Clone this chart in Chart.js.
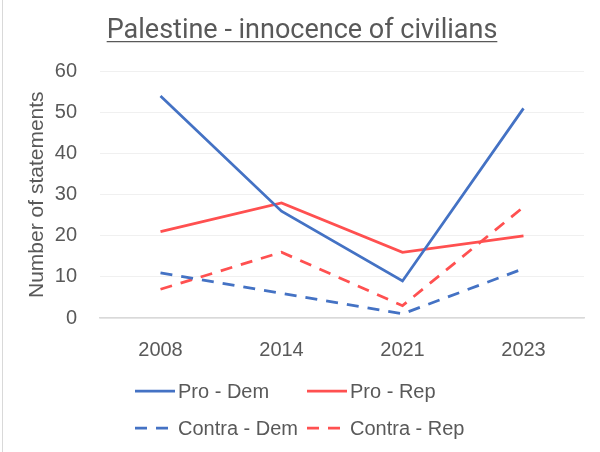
<!DOCTYPE html>
<html>
<head>
<meta charset="utf-8">
<script src="https://cdn.jsdelivr.net/npm/chart.js@4"></script>
<style>
  html, body { margin: 0; padding: 0; background: #fff; }
  #wrap { width: 600px; height: 452px; position: relative; }
</style>
</head>
<body>
<div id="wrap"><canvas id="civiliansChart" width="600" height="452"></canvas></div>
<script>
const years = ['2008', '2014', '2021', '2023'];
const proDem = [54, 26, 9, 51];
const proRep = [21, 28, 16, 20];
const contraDem = [11, 6, 1, 12];
const contraRep = [7, 16, 3, 27];

const blue = '#4472C4';
const red = '#FF5050';
const grey = '#595959';
const fontFamily = '"Liberation Sans", Arial, sans-serif';
const titleFont = { family: 'Roboto, sans-serif', size: 27, weight: 'normal', lineHeight: 1.2 };
const titlePad = { top: 15, bottom: 24 };

// frame line, title underline and a 2x2 legend below the axis
const extras = {
  id: 'extras',
  beforeDraw(chart) {
    const ctx = chart.ctx;
    ctx.save();
    ctx.strokeStyle = '#D9D9D9';
    ctx.lineWidth = 1;
    ctx.beginPath();
    ctx.moveTo(2.5, 0);
    ctx.lineTo(2.5, chart.height);
    ctx.stroke();
    ctx.restore();
  },
  afterDraw(chart) {
    const ctx = chart.ctx;
    const tb = chart.titleBlock;
    const title = chart.options.plugins.title;
    ctx.save();
    ctx.font = titleFont.size + 'px ' + titleFont.family;
    const w = ctx.measureText(title.text).width;
    const cx = tb.left + tb.width / 2;
    const uy = tb.top + titlePad.top + titleFont.size * titleFont.lineHeight / 2 + 10.5;
    ctx.strokeStyle = grey;
    ctx.lineWidth = 1.3;
    ctx.beginPath();
    ctx.moveTo(cx - w / 2, uy);
    ctx.lineTo(cx + w / 2, uy);
    ctx.stroke();

    const cols = [135, 307];
    const rows = [391, 428];
    ctx.font = '20px ' + fontFamily;
    ctx.textBaseline = 'middle';
    ctx.fillStyle = grey;
    chart.data.datasets.forEach(function (ds, i) {
      const x = cols[i % 2];
      const y = rows[Math.floor(i / 2)];
      ctx.strokeStyle = ds.borderColor;
      ctx.lineWidth = ds.borderWidth;
      ctx.setLineDash(ds.borderDash || []);
      ctx.beginPath();
      ctx.moveTo(x, y);
      ctx.lineTo(x + 40, y);
      ctx.stroke();
      ctx.setLineDash([]);
      ctx.fillText(ds.label, x + 43, y + 1);
    });
    ctx.restore();
  }
};

const ctx = document.getElementById('civiliansChart').getContext('2d');

new Chart(ctx, {
  type: 'line',
  data: {
    labels: years,
    datasets: [
      { label: 'Pro - Dem', data: proDem, borderColor: blue, borderWidth: 2.75 },
      { label: 'Pro - Rep', data: proRep, borderColor: red, borderWidth: 2.75 },
      { label: 'Contra - Dem', data: contraDem, borderColor: blue, borderWidth: 2.75, borderDash: [12, 9] },
      { label: 'Contra - Rep', data: contraRep, borderColor: red, borderWidth: 2.75, borderDash: [12, 9] }
    ]
  },
  options: {
    responsive: false,
    animation: false,
    layout: { padding: { left: 20, right: 16, top: 0, bottom: 0 } },
    elements: { point: { radius: 0 }, line: { tension: 0, borderCapStyle: 'butt' } },
    plugins: {
      legend: { display: false },
      tooltip: { enabled: false },
      title: {
        display: true,
        text: 'Palestine - innocence of civilians',
        color: grey,
        font: titleFont,
        padding: titlePad
      }
    },
    scales: {
      x: {
        offset: true,
        grid: { display: false, drawTicks: false },
        border: { color: '#D9D9D9', width: 1.5 },
        ticks: { color: grey, font: { family: fontFamily, size: 20 }, padding: 20 },
        afterFit(scale) { scale.height = 134; }
      },
      y: {
        min: 0,
        max: 60,
        ticks: {
          stepSize: 5,
          color: grey,
          font: { family: fontFamily, size: 20 },
          padding: 23,
          // gridlines every 5, labels every 10
          callback: function (v) { return v % 10 === 0 ? v : ''; }
        },
        grid: { color: '#F0F0F0', drawTicks: false },
        border: { display: false },
        title: {
          display: true,
          text: 'Number of statements',
          color: grey,
          font: { family: fontFamily, size: 21 },
          padding: { top: 5, bottom: 0 }
        },
        afterFit(scale) { scale.width = 80; }
      }
    }
  },
  plugins: [extras]
});
</script>
</body>
</html>
